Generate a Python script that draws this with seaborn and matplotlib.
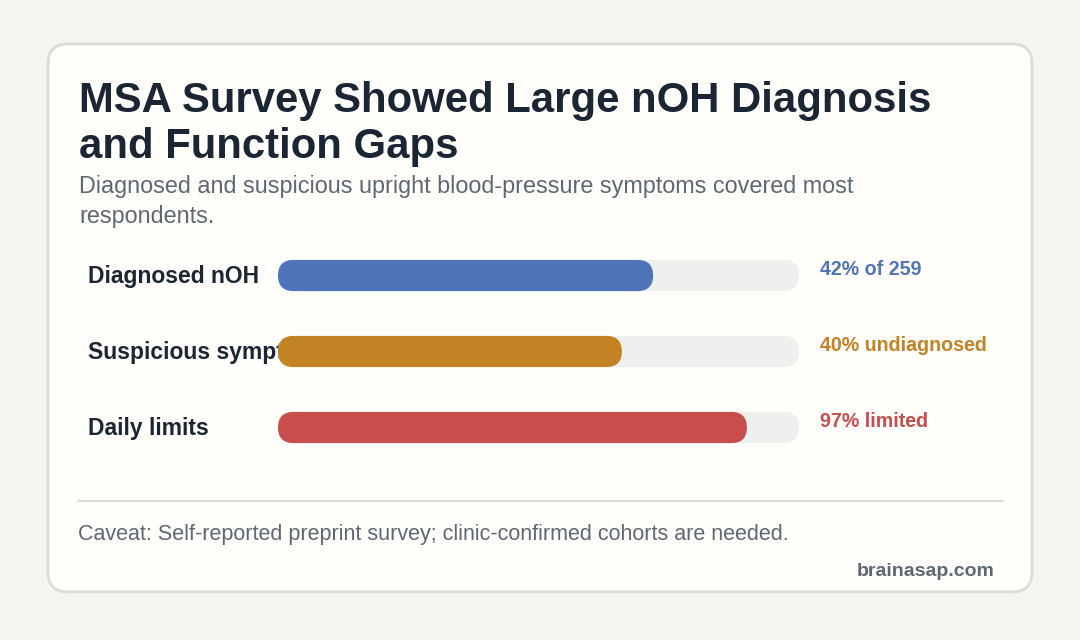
import matplotlib
matplotlib.use("Agg")
import matplotlib.pyplot as plt
import seaborn as sns
import pandas as pd
from matplotlib.patches import FancyBboxPatch
from matplotlib.transforms import IdentityTransform
from matplotlib.lines import Line2D

categories = ["Diagnosed nOH", "Suspicious symptoms", "Daily limits"]
bar_values = [72, 66, 90]
value_labels = ["42% of 259", "40% undiagnosed", "97% limited"]
bar_colors = ["#4f74b9", "#c38224", "#c84e4e"]
track_max = [100, 100, 100]

title_lines = ["MSA Survey Showed Large nOH Diagnosis", "and Function Gaps"]
subtitle_lines = ["Diagnosed and suspicious upright blood-pressure symptoms covered most",
                  "respondents."]
caveat = "Caveat: Self-reported preprint survey; clinic-confirmed cohorts are needed."
brand = "brainasap.com"

W, H = 1080, 640
sns.set_theme(style="white")
plt.rcParams["font.family"] = ["Liberation Sans", "DejaVu Sans"]

fig = plt.figure(figsize=(W / 100, H / 100), dpi=100)
fig.patch.set_facecolor("#f4f5f1")

def fx(x):
    return x / W

def fy(y_img):
    return 1 - y_img / H

# card
card = FancyBboxPatch((48, H - 592), 984, 548,
                      boxstyle="round,pad=0,rounding_size=20",
                      transform=IdentityTransform(), fc="#fffefa", ec="#dcddd6",
                      lw=2, zorder=-5)
fig.add_artist(card)

dark = "#1b2533"
gray = "#5e6873"

fig.text(fx(79), fy(112), title_lines[0], fontsize=30.2, fontweight="bold", color=dark, va="baseline")
fig.text(fx(79), fy(158), title_lines[1], fontsize=30.2, fontweight="bold", color=dark, va="baseline")
fig.text(fx(79), fy(193), subtitle_lines[0], fontsize=16.8, color=gray, va="baseline")
fig.text(fx(79), fy(223), subtitle_lines[1], fontsize=16.8, color=gray, va="baseline")

# bar axes
ax = fig.add_axes([fx(278), (H - 465.5) / H, 521 / W, 228 / H])
ax.set_facecolor("none")
df = pd.DataFrame({"cat": categories, "val": bar_values, "track": track_max})
sns.barplot(data=df, x="track", y="cat", color="#edf0ec", width=0.41, orient="h",
            saturation=1, ax=ax)
sns.barplot(data=df, x="val", y="cat", hue="cat", palette=bar_colors, width=0.41,
            orient="h", saturation=1, ax=ax, legend=False)
ax.set_xlim(0, 100)
ax.set_ylim(2.5, -0.5)
ax.axis("off")

fig.canvas.draw()
for p in list(ax.patches):
    x0, y0 = p.get_x(), p.get_y()
    w, h = p.get_width(), p.get_height()
    (a, b) = ax.transData.transform((x0, y0))
    (c, d) = ax.transData.transform((x0 + w, y0 + h))
    left, right = min(a, c), max(a, c)
    bot, top = min(b, d), max(b, d)
    hh = top - bot
    rp = FancyBboxPatch((left, bot), right - left, hh,
                        boxstyle=f"round,pad=0,rounding_size={hh / 2}",
                        transform=IdentityTransform(), fc=p.get_facecolor(),
                        ec="none", zorder=2)
    fig.add_artist(rp)
    p.set_visible(False)

for i, cat in enumerate(categories):
    cy = ax.transData.transform((0, i))[1]
    fig.text(fx(88), (cy - 8) / H, cat, fontsize=16.5, fontweight="bold",
             color=dark, va="baseline", zorder=1)
    fig.text(fx(820), (cy + 0.5) / H, value_labels[i], fontsize=14.1,
             fontweight="bold", color=bar_colors[i], va="baseline", zorder=1)

fig.add_artist(Line2D([fx(78), fx(1003)], [fy(500.5), fy(500.5)], color="#dcddd6", lw=1.6))
fig.text(fx(78), fy(540), caveat, fontsize=15.5, color=gray, va="baseline")
fig.text(fx(995), fy(576), brand, fontsize=14, fontweight="bold", color=gray,
         ha="right", va="baseline")

fig.savefig("out.png", dpi=100, facecolor=fig.get_facecolor())
